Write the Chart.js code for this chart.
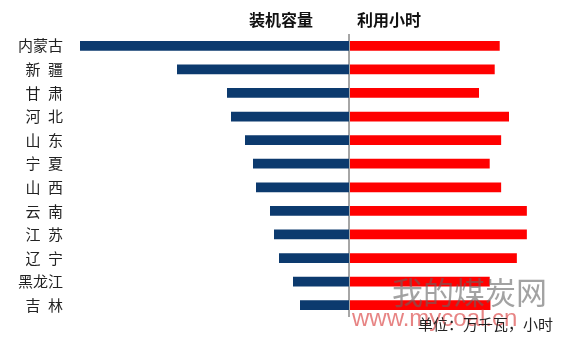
<!DOCTYPE html>
<html>
<head>
<meta charset="utf-8">
<script src="https://cdn.jsdelivr.net/npm/chart.js@4/dist/chart.umd.min.js"></script>
<style>
  html, body { margin: 0; padding: 0; background: #ffffff; }
  #wrap { width: 568px; height: 338px; position: relative; }
</style>
</head>
<body>
<div id="wrap"><canvas id="chart" width="568" height="338"></canvas></div>
<script>
// Provinces (two-character names padded with an en space)
const provinces = ['内蒙古', '新\u2002疆', '甘\u2002肃', '河\u2002北', '山\u2002东', '宁\u2002夏', '山\u2002西', '云\u2002南', '江\u2002苏', '辽\u2002宁', '黑龙江', '吉\u2002林'];
// Installed capacity, 万千瓦
const capacity = [2690, 1720, 1220, 1180, 1040, 960, 930, 790, 750, 700, 560, 490];
// Utilisation hours, 小时
const hours = [2110, 2040, 1820, 2240, 2130, 1970, 2130, 2490, 2490, 2350, 1970, 1980];
const seriesNames = ['装机容量', '利用小时'];
const unitNote = '单位：万千瓦，小时';
const siteMark = ['我的煤炭网', 'www.mycoal.cn'];
const capacityMax = 2790;
const hoursMax = 2800;

const CJK = '"Noto Sans CJK SC", "Noto Sans", sans-serif';

// Series headings, unit note and site mark
const annotations = {
  id: 'annotations',
  afterDraw(chart) {
    const { ctx, chartArea } = chart;
    const split = chart.scales.xHrs.left;
    ctx.save();
    ctx.textBaseline = 'middle';
    ctx.fillStyle = '#111111';
    ctx.font = 'bold 16px ' + CJK;
    ctx.textAlign = 'right';
    ctx.fillText(seriesNames[0], split - 36, chartArea.top - 14);
    ctx.textAlign = 'left';
    ctx.fillText(seriesNames[1], split + 8, chartArea.top - 14);

    // site mark
    ctx.textAlign = 'left';
    ctx.font = '31px ' + CJK;
    ctx.fillStyle = 'rgba(100,100,100,0.6)';
    ctx.fillText(siteMark[0], split + 43, chartArea.bottom - 25);
    ctx.font = '24px "Liberation Sans", Arial, sans-serif';
    ctx.fillStyle = 'rgba(215,50,50,0.6)';
    ctx.textBaseline = 'alphabetic';
    ctx.fillText(siteMark[1], split + 3, chartArea.bottom + 9);

    // unit note
    ctx.textBaseline = 'middle';
    ctx.textAlign = 'right';
    ctx.font = '15px ' + CJK;
    ctx.fillStyle = '#222222';
    ctx.fillText(unitNote, chartArea.right + 4, chartArea.bottom + 7);
    ctx.restore();
  }
};

new Chart(document.getElementById('chart'), {
  type: 'bar',
  data: {
    labels: provinces,
    datasets: [
      {
        label: seriesNames[0],
        data: capacity,
        xAxisID: 'xCap',
        backgroundColor: '#0c3a6e',
        grouped: false,
        barPercentage: 0.41,
        categoryPercentage: 1
      },
      {
        label: seriesNames[1],
        data: hours,
        xAxisID: 'xHrs',
        backgroundColor: '#ff0000',
        grouped: false,
        barPercentage: 0.41,
        categoryPercentage: 1
      }
    ]
  },
  options: {
    indexAxis: 'y',
    responsive: false,
    animation: false,
    layout: { padding: { top: 34, bottom: 21, left: 0, right: 19 } },
    plugins: {
      legend: { display: false },
      tooltip: { enabled: false }
    },
    scales: {
      y: {
        position: 'left',
        grid: { display: false, drawTicks: false },
        border: { display: false },
        ticks: { padding: 7, color: '#222222', font: { family: CJK, size: 15 } },
        afterFit(scale) { scale.width = 70; }
      },
      xCap: {
        type: 'linear',
        position: 'bottom',
        stack: 'x',
        stackWeight: 279,
        reverse: true,
        min: 0,
        max: capacityMax,
        ticks: { display: false },
        grid: { display: false, drawTicks: false },
        border: { display: false }
      },
      xHrs: {
        type: 'linear',
        position: 'bottom',
        stack: 'x',
        stackWeight: 200,
        min: 0,
        max: hoursMax,
        z: 1,
        ticks: { display: false },
        grid: {
          drawTicks: false,
          lineWidth: 2,
          color: (c) => (c.tick && c.tick.value === 0 ? '#a6a6a6' : 'rgba(0,0,0,0)')
        },
        border: { display: false }
      }
    }
  },
  plugins: [annotations]
});
</script>
</body>
</html>
